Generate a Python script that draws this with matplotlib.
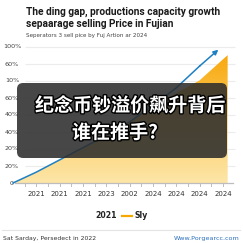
import matplotlib
matplotlib.use("Agg")
import matplotlib.pyplot as plt
import matplotlib.transforms as mtransforms
import matplotlib.patheffects as pe
from matplotlib.patches import FancyBboxPatch, Polygon
from matplotlib.colors import LinearSegmentedColormap
import numpy as np

# data
line_x = [0, 1, 2, 3, 4, 5, 6, 7, 8, 8.8]
line_y = [0, 8, 17, 26, 35, 45, 57, 70, 86, 98]
area_x = [0, 1, 2, 3, 4, 5, 6, 7, 8, 9.2]
area_y = [0, 8, 17, 26, 35, 45, 56, 66, 75.5, 94]
y_ticks = [0, 12.5, 25, 37.5, 50, 62.5, 75, 87.5, 100]
y_labels = ["0", "20%", "20%", "40%", "40%", "60%", "10%", "60%", "100%"]
x_ticks = [1, 2, 3, 4, 5, 6, 7, 8, 9]
x_labels = ["2021", "2021", "2021", "2023", "2002", "2024", "2024", "2024", "2024"]

W = 243
fig = plt.figure(figsize=(2.43, 2.43), dpi=100)
fig.patch.set_facecolor("white")
ax = fig.add_axes([13 / W, 60 / W, 220 / W, 136 / W])
ax.set_xlim(0, 9.43)
ax.set_ylim(0, 100)
ax.axis("off")

# gridlines
ax.hlines(y_ticks[1:], 0.51, 9.5, color="#ececec", lw=0.8, clip_on=False, zorder=1)

# gradient area
verts = list(zip(area_x, area_y)) + [(area_x[-1], 0), (0, 0)]
poly = Polygon(verts, closed=True, facecolor="none", edgecolor="none")
ax.add_patch(poly)
grad = np.linspace(0, 1, 256).reshape(-1, 1)
cmap = LinearSegmentedColormap.from_list("g", ["#fde6a8", "#fcc95c", "#f7a300"])
im = ax.imshow(grad, cmap=cmap, extent=[0, 9.43, 0, 100], origin="lower",
               aspect="auto", zorder=2)
im.set_clip_path(poly)

# axis line + ticks
ax.plot([0.08, 9.45], [0, 0], color="#bdbdbd", lw=0.9, clip_on=False, zorder=3)
for t in np.arange(0.5, 9.1, 0.5):
    ax.plot([t, t], [0, -2.5], color="#bdbdbd", lw=0.7, clip_on=False, zorder=3)

# blue arrow line
ax.plot(line_x[:-1], line_y[:-1], color="#1f7fc4", lw=1.1, zorder=4, clip_on=False)
ax.annotate("", xy=(line_x[-1], line_y[-1]), xytext=(line_x[-2], line_y[-2]),
            arrowprops=dict(arrowstyle="-|>", color="#1f7fc4", lw=1.1,
                            mutation_scale=7, shrinkA=0, shrinkB=0), zorder=4)

# tick labels
ytr = mtransforms.blended_transform_factory(fig.transFigure, ax.transData)
for v, s in zip(y_ticks, y_labels):
    ax.text(12 / W, v, s, transform=ytr, ha="center", va="center",
            fontsize=4.6, color="#444444", family="DejaVu Sans")
for v, s in zip(x_ticks, x_labels):
    ax.text(v, -8, s, ha="center", va="center", fontsize=5, color="#333333",
            family="DejaVu Sans")

# title
fig.text(26 / W, 1 - 12 / W, "The ding gap, productions capacity growth",
         fontsize=7.3, fontweight="bold", color="#1a1a1a", va="center", family="Roboto")
fig.text(26 / W, 1 - 24 / W, "sepaarage selling Price in Fujian",
         fontsize=7.3, fontweight="bold", color="#1a1a1a", va="center", family="Roboto")
fig.text(26 / W, 1 - 36 / W, "Seperators 3 sell pice by Fuj Artion ar 2024",
         fontsize=4.1, color="#444444", va="center", family="DejaVu Sans")

# overlay box
box = FancyBboxPatch((17 / W, 1 - 158 / W), 210 / W, 75 / W,
                     boxstyle="round,pad=0,rounding_size=0.025",
                     transform=fig.transFigure, facecolor="#2c2c2c",
                     edgecolor="none", alpha=0.87, zorder=10)
fig.patches.append(box)
stroke = [pe.withStroke(linewidth=2, foreground="black")]
fig.text(35 / W, 1 - 106 / W, "纪念币钞溢价飙升背后", fontsize=13.7,
         fontweight="bold", color="white", va="center", zorder=11,
         family=["Noto Sans CJK SC", "DejaVu Sans"], path_effects=stroke)
fig.text(72 / W, 1 - 133 / W, "谁在推手?", fontsize=13.7,
         fontweight="bold", color="white", va="center", zorder=11,
         family=["Noto Sans CJK SC", "DejaVu Sans"], path_effects=stroke)

# legend
fig.text(117 / W, 1 - 216 / W, "2021", fontsize=5.6, fontweight="bold",
         color="#222222", ha="right", va="center", family="DejaVu Sans")
fig.add_artist(plt.Line2D([122 / W, 132 / W], [1 - 216 / W, 1 - 216 / W],
                          color="#f7a800", lw=1.6, transform=fig.transFigure))
fig.text(134 / W, 1 - 216 / W, "Sly", fontsize=5.6, fontweight="bold",
         color="#222222", ha="left", va="center", family="DejaVu Sans")

# footer
fig.add_artist(plt.Line2D([2 / W, 240 / W], [1 - 230 / W, 1 - 230 / W],
                          color="#e3e3e3", lw=0.8, transform=fig.transFigure))
fig.text(3 / W, 1 - 238 / W, "Sat Sarday, Persedect in 2022", fontsize=4.4,
         color="#333333", va="center", family="DejaVu Sans")
fig.text(240 / W, 1 - 238 / W, "Www.Porgearcc.com", fontsize=4.6,
         color="#2a6fc0", ha="right", va="center", family="DejaVu Sans")

fig.savefig("out.png", dpi=100)
